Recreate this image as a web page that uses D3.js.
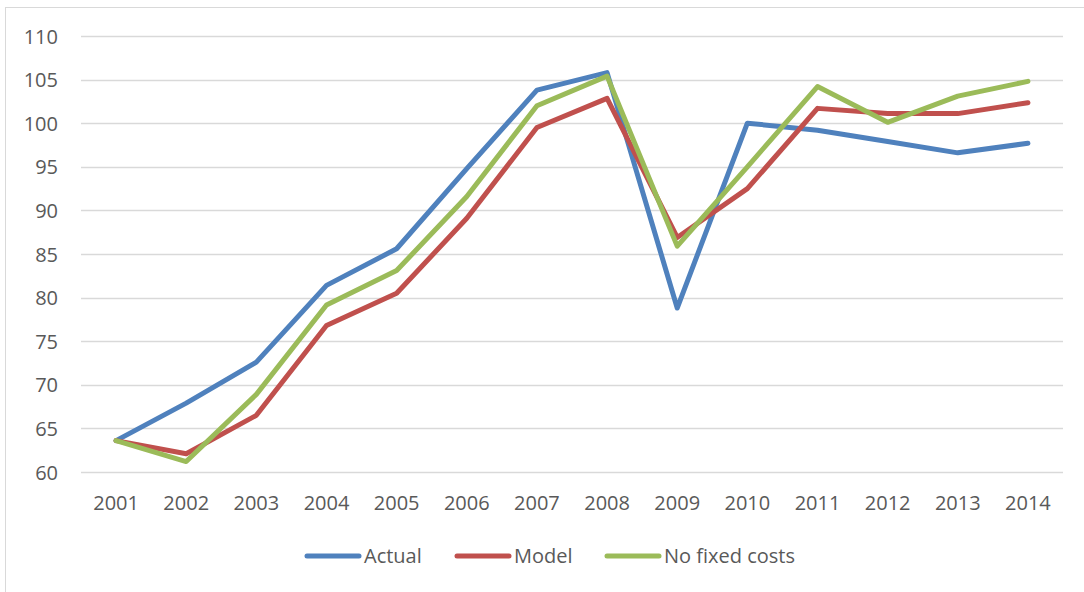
<!DOCTYPE html>
<html>
<head>
<meta charset="utf-8">
<script src="https://cdn.jsdelivr.net/npm/d3@7"></script>
<style>
  html, body { margin: 0; padding: 0; background: #fff; }
  svg { display: block; }
  text { font-family: "Open Sans", "Liberation Sans", sans-serif; fill: #595959; }
</style>
</head>
<body>
<svg id="chart" width="1084" height="592"></svg>
<script>
const years = ["2001","2002","2003","2004","2005","2006","2007","2008","2009","2010","2011","2012","2013","2014"];
const actual = [63.6, 67.9, 72.6, 81.4, 85.6, 94.8, 103.8, 105.8, 78.8, 100.0, 99.2, 97.9, 96.6, 97.7];
const model = [63.6, 62.1, 66.5, 76.8, 80.5, 89.1, 99.5, 102.85, 86.9, 92.5, 101.7, 101.1, 101.1, 102.35];
const noFixed = [63.6, 61.2, 68.9, 79.15, 83.1, 91.6, 102.0, 105.4, 85.9, 95.0, 104.2, 100.1, 103.1, 104.8];
const yTicks = [60, 65, 70, 75, 80, 85, 90, 95, 100, 105, 110];
const seriesNames = ["Actual", "Model", "No fixed costs"];
const seriesColors = ["#4F81BD", "#C0504D", "#9BBB59"];

(function () {
const svg = d3.select("#chart");
const pLeft = 81, pRight = 1063, pTop = 36, pBottom = 472;

svg.append("rect").attr("x", 5.5).attr("y", 7.5).attr("width", 1100).attr("height", 620)
  .attr("fill", "none").attr("stroke", "#D9D9D9").attr("stroke-width", 1);

const x = d3.scaleBand().domain(years).range([pLeft, pRight]);
const y = d3.scaleLinear().domain([60, 110]).range([pBottom, pTop]);

// gridlines
svg.append("g").selectAll("line").data(yTicks).join("line")
  .attr("x1", pLeft).attr("x2", pRight)
  .attr("y1", d => Math.round(y(d)) + 0.5).attr("y2", d => Math.round(y(d)) + 0.5)
  .attr("stroke", "#D9D9D9").attr("stroke-width", 1.5);

// y axis labels
const yAxis = d3.axisLeft(y).tickValues(yTicks).tickSize(0).tickPadding(0);
const gy = svg.append("g").attr("transform", `translate(58,0)`).call(yAxis);
gy.select(".domain").remove();
gy.selectAll("text").attr("font-size", 20).style("font-family", "'Open Sans', sans-serif").attr("fill", "#595959").attr("dy", "0.35em");

// x axis labels
const xAxis = d3.axisBottom(x).tickSize(0).tickPadding(0);
const gx = svg.append("g").attr("transform", `translate(0,${pBottom + 31})`).call(xAxis);
gx.select(".domain").remove();
gx.selectAll("text").attr("font-size", 20).style("font-family", "'Open Sans', sans-serif").attr("fill", "#595959").attr("dy", "0.35em");

const data = [actual, model, noFixed];
const line = d3.line().x((d, i) => x(years[i]) + x.bandwidth() / 2).y(d => y(d));

svg.append("g").selectAll("path").data(data).join("path")
  .attr("d", d => line(d))
  .attr("fill", "none")
  .attr("stroke", (d, i) => seriesColors[i])
  .attr("stroke-width", 5)
  .attr("stroke-linejoin", "round")
  .attr("stroke-linecap", "round");

// legend
const legendX = [307, 457, 607];
const lg = svg.append("g").attr("transform", "translate(0,556)");
seriesNames.forEach((name, i) => {
  lg.append("line").attr("x1", legendX[i]).attr("x2", legendX[i] + 52)
    .attr("y1", 0).attr("y2", 0)
    .attr("stroke", seriesColors[i]).attr("stroke-width", 5).attr("stroke-linecap", "round");
  lg.append("text").attr("x", legendX[i] + 57).attr("y", 0).attr("dy", "0.35em")
    .attr("font-size", 20).text(name);
});
})();
</script>
</body>
</html>
